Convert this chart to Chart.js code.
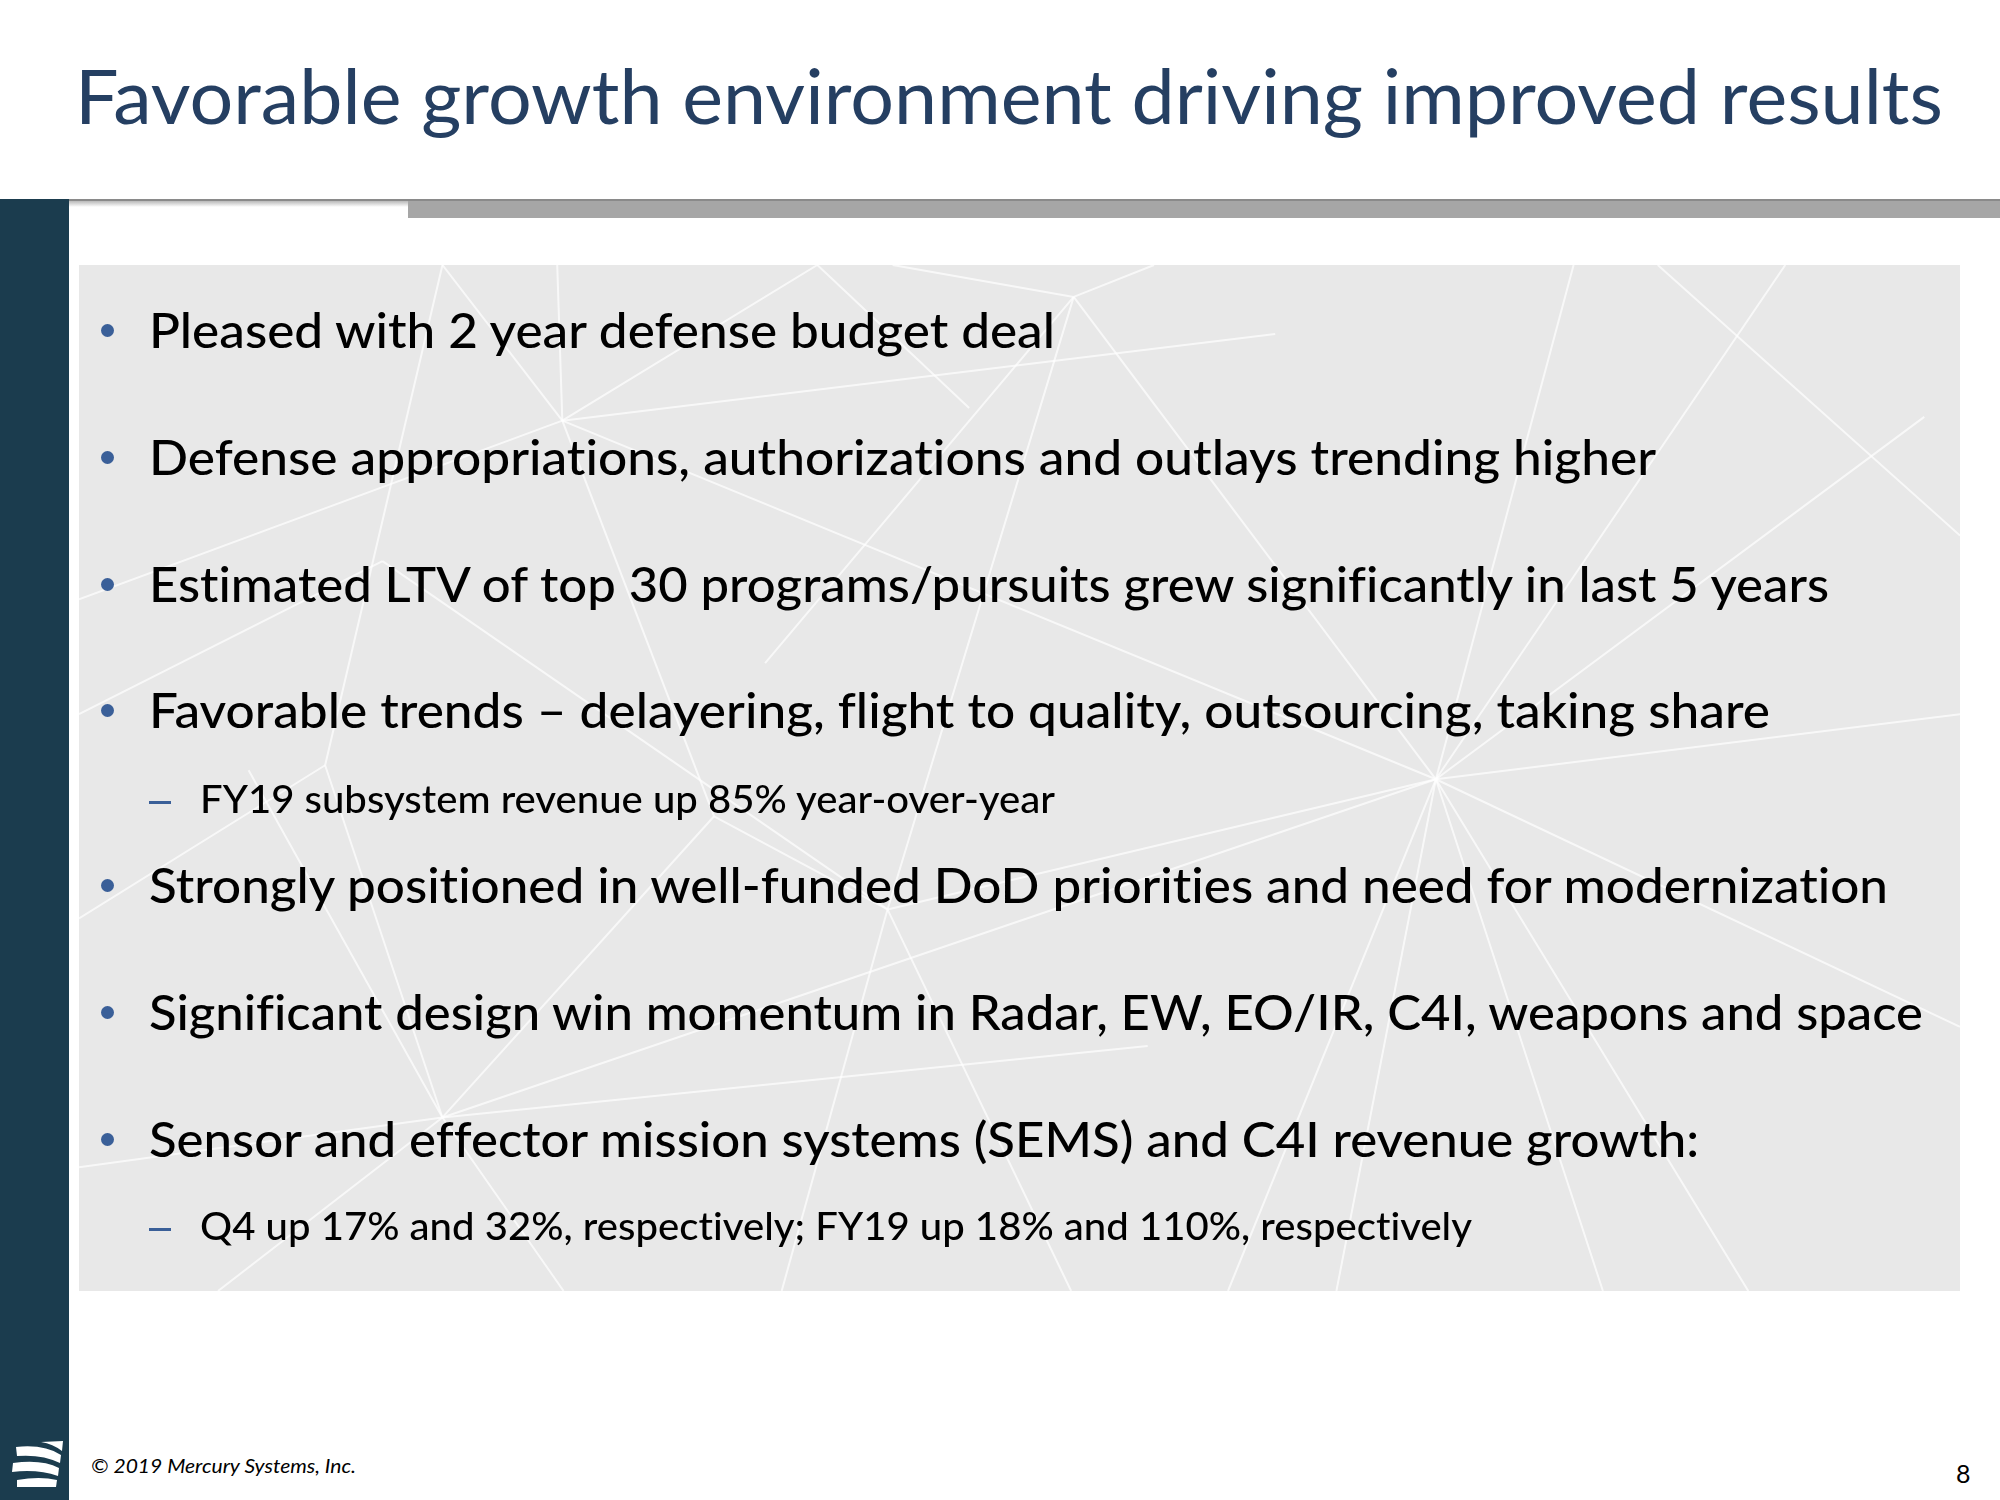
<!DOCTYPE html>
<html>
<head>
<meta charset="utf-8">
<script src="https://cdn.jsdelivr.net/npm/chart.js@4"></script>
<style>
  html, body { margin: 0; padding: 0; }
  body { width: 2000px; height: 1500px; position: relative; overflow: hidden; background: #fff; font-family: Lato, "Open Sans", sans-serif; }
  .txt { position: absolute; white-space: nowrap; line-height: 1.2; transform-origin: 0 0; font-variant-ligatures: none; font-feature-settings: "liga" 0, "clig" 0; }
  .dot { position: absolute; width: 13px; height: 13px; border-radius: 50%; background: #3a5f98; }
  .dash { position: absolute; width: 22px; height: 3px; background: #3a5f98; }
</style>
</head>
<body>
<!-- header rules and side bar -->
<div style="position:absolute;left:0;top:199px;width:69px;height:1301px;background:#1b3c4e"></div>
<div style="position:absolute;left:69px;top:199px;width:1931px;height:2px;background:#8a8a8a"></div>
<div style="position:absolute;left:69px;top:201px;width:339px;height:6px;background:linear-gradient(#b9b9b9,#fff)"></div>
<div style="position:absolute;left:408px;top:201px;width:1592px;height:17px;background:#a6a6a6"></div>

<!-- grey panel with the network pattern -->
<div style="position:absolute;left:79px;top:265px;width:1881px;height:1026px;background:#e8e8e8">
  <canvas id="net" width="1881" height="1026"></canvas>
</div>

<!-- logo -->
<svg style="position:absolute;left:0;top:1430px" width="69" height="70" viewBox="0 0 69 70">
  <path d="M41 12 L63 11 L62 21 Q53 14 41 12 Z" fill="#fff"/>
  <path d="M16 17 Q44 14 61 25 L60 33 Q42 24 17 26 Z" fill="#fff"/>
  <path d="M13 33 Q42 29 59 38 L58 46 Q38 39 12 42 Z" fill="#fff"/>
  <path d="M17 50 Q40 46 57 50 L56 57 L17 57 Z" fill="#fff"/>
</svg>

<script>
// slide text
const slideTitle = 'Favorable growth environment driving improved results';
const bulletItems = [
  'Pleased with 2 year defense budget deal',
  'Defense appropriations, authorizations and outlays trending higher',
  'Estimated LTV of top 30 programs/pursuits grew significantly in last 5 years',
  'Favorable trends \u2013 delayering, flight to quality, outsourcing, taking share',
  'Strongly positioned in well-funded DoD priorities and need for modernization',
  'Significant design win momentum in Radar, EW, EO/IR, C4I, weapons and space',
  'Sensor and effector mission systems (SEMS) and C4I revenue growth:'
];
const subItems = [
  'FY19 subsystem revenue up 85% year-over-year',
  'Q4 up 17% and 32%, respectively; FY19 up 18% and 110%, respectively'
];
const footerText = '\u00a9 2019 Mercury Systems, Inc.';
const pageNumber = '8';

// background network: segment start and end points
const lineStarts = [
  [441,330],[441,330],[441,330],[441,330],[441,330],[441,330],[441,330],
  [347,208],[641,208],
  [842,233],[842,233],[842,233],[842,233],[842,233],
  [1234,208],[1509,327],
  [1126,611],[1126,611],[1126,611],[1126,611],[1126,611],[1126,611],[1126,611],[1126,611],[1126,611],
  [696,713],[696,713],[696,713],[696,713],
  [347,876],[347,876],[347,876],[347,876],[347,876],
  [560,640],[255,600],[255,600],[62,560],[1537,420]
];
const lineEnds = [
  [347,208],[437,208],[641,208],[1000,262],[62,470],[1126,611],[560,640],
  [255,600],[760,320],
  [700,208],[905,208],[1126,611],[696,713],[600,520],
  [1126,611],[1126,611],
  [1537,560],[1537,805],[1371,1012],[1257,1012],[1048,1012],[963,1012],[696,713],[347,876],[1400,208],
  [613,1012],[840,1012],[300,440],[560,640],
  [195,604],[62,915],[442,1012],[171,1012],[900,820],
  [347,876],[62,720],[347,876],[300,440],[1300,208]
];

// layout (full-size pixels)
const titleBox = { left: 75, baseline: 124, width: 1868, size: 75 };
const bulletBaselines = [348, 475, 602, 728, 903, 1030, 1157];
const bulletWidths = [906, 1507, 1680, 1621, 1739, 1774, 1550];
const subBaselines = [813, 1240];
const subWidths = [855, 1272];

function addText(str, left, baseline, width, css) {
  const el = document.createElement('div');
  el.className = 'txt';
  el.style.cssText += css;
  const span = document.createElement('span');
  span.textContent = str;
  el.appendChild(span);
  const probe = document.createElement('span');
  probe.style.cssText = 'display:inline-block;width:0;height:0;vertical-align:baseline';
  el.appendChild(probe);
  document.body.appendChild(el);
  el.style.left = left + 'px';
  el.style.top = '0px';
  el.style.top = (baseline - probe.offsetTop) + 'px';
  if (width) {
    const w = span.getBoundingClientRect().width;
    el.style.transform = 'scaleX(' + (width / w) + ')';
  }
  return el;
}

function addBox(cls, left, top) {
  const d = document.createElement('div');
  d.className = cls;
  d.style.left = left + 'px';
  d.style.top = top + 'px';
  document.body.appendChild(d);
}

function drawText() {
  addText(slideTitle, titleBox.left, titleBox.baseline, titleBox.width,
    'font-size:' + titleBox.size + 'px;color:#253f62;');
  bulletItems.forEach((t, i) => {
    addText(t, 149, bulletBaselines[i], bulletWidths[i], 'font-size:48px;font-weight:500;color:#000;');
    addBox('dot', 101, bulletBaselines[i] - 24);
  });
  subItems.forEach((t, i) => {
    addText(t, 200, subBaselines[i], subWidths[i], 'font-size:38px;font-weight:500;color:#000;');
    addBox('dash', 149, subBaselines[i] - 12);
  });
  addText(footerText, 91, 1473, 265, 'font-size:19px;font-style:italic;color:#000;');
  addText(pageNumber, 1956, 1483, 0, 'font-size:25px;color:#000;');
}

function drawNetwork() {
  const datasets = lineStarts.map((s, i) => ({
    data: [{ x: s[0], y: s[1] }, { x: lineEnds[i][0], y: lineEnds[i][1] }],
    showLine: true,
    borderColor: 'rgba(255,255,255,0.7)',
    borderWidth: 2,
    pointRadius: 0
  }));
  new Chart(document.getElementById('net'), {
    type: 'scatter',
    data: { datasets: datasets },
    options: {
      responsive: false,
      animation: false,
      layout: { padding: 0 },
      plugins: { legend: { display: false }, tooltip: { enabled: false } },
      scales: {
        x: { type: 'linear', min: 62, max: 1537, display: false },
        y: { type: 'linear', min: 208, max: 1012, reverse: true, display: false }
      }
    }
  });
}

drawNetwork();
if (document.fonts && document.fonts.ready) {
  document.fonts.ready.then(drawText);
} else {
  drawText();
}
</script>
</body>
</html>
